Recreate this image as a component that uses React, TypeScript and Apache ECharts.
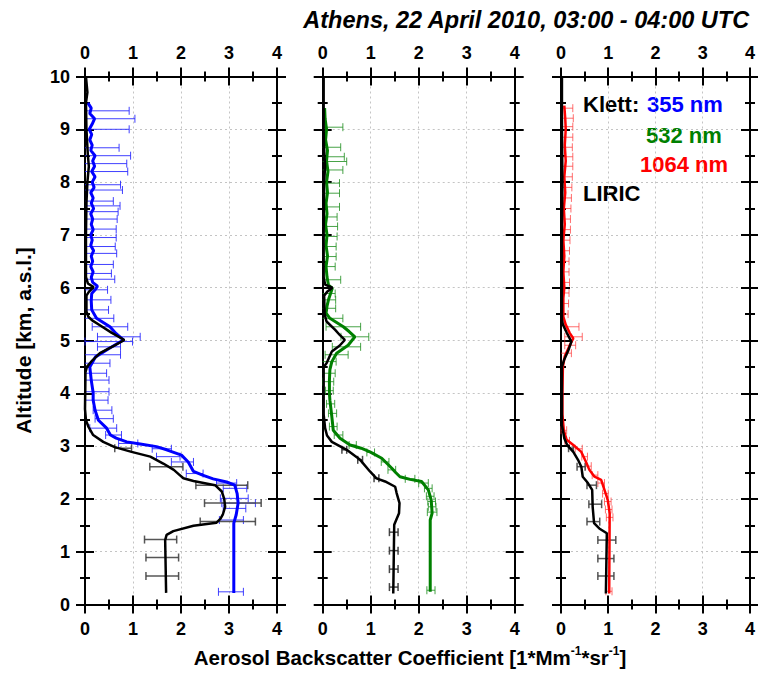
import React, { useEffect, useRef } from "react";
import * as echarts from "echarts";

// ---------- DATA ----------
// Panel 1: Klett 355 nm
const ALT_355 = [0.22, 1.54, 1.7, 1.92, 2.1, 2.26, 2.32, 2.38, 2.45, 2.52, 2.62, 2.7, 2.83, 2.93, 2.99, 3.04, 3.08, 3.15, 3.21, 3.34, 3.49, 3.68, 3.87, 4.01, 4.25, 4.5, 4.69, 4.85, 5.01, 5.13, 5.26, 5.42, 5.58, 5.75, 5.89, 5.97, 6.03, 6.1, 6.2, 6.3, 6.4, 6.5, 6.6, 6.7, 6.8, 6.9, 7.0, 7.1, 7.2, 7.3, 7.4, 7.5, 7.6, 7.7, 7.8, 7.9, 8.0, 8.1, 8.2, 8.3, 8.4, 8.5, 8.6, 8.7, 8.8, 8.9, 9.0, 9.1, 9.2, 9.3, 9.4, 9.5];
const VAL_355 = [3.1, 3.1, 3.15, 3.19, 3.17, 3.12, 2.95, 2.67, 2.45, 2.26, 2.2, 2.15, 2.01, 1.7, 1.49, 1.15, 0.87, 0.65, 0.53, 0.45, 0.28, 0.21, 0.17, 0.17, 0.13, 0.1, 0.22, 0.5, 0.8, 0.65, 0.52, 0.24, 0.14, 0.13, 0.14, 0.22, 0.26, 0.16, 0.13, 0.17, 0.12, 0.16, 0.13, 0.18, 0.12, 0.15, 0.12, 0.17, 0.13, 0.16, 0.12, 0.18, 0.13, 0.17, 0.12, 0.19, 0.15, 0.21, 0.14, 0.2, 0.16, 0.21, 0.12, 0.15, 0.1, 0.14, 0.09, 0.15, 0.2, 0.1, 0.13, 0.06];
const ERR355_ALT = [0.24, 1.6, 1.82, 1.92, 2.01, 2.2, 2.3, 2.48, 2.7, 2.8, 2.95, 3.05, 3.21, 3.34, 3.52, 3.68, 3.87, 4.03, 4.25, 4.38, 4.57, 4.73, 4.88, 4.98, 5.07, 5.26, 5.42, 5.58, 5.77, 5.96, 6.16, 6.27, 6.44, 6.65, 6.78, 6.95, 7.11, 7.3, 7.44, 7.55, 7.64, 7.85, 7.95, 8.2, 8.35, 8.5, 8.65, 9.0, 9.2, 9.35];
const ERR355_LO = [2.78, 2.8, 2.88, 2.85, 2.82, 2.88, 2.74, 2.11, 1.8, 1.49, 1.4, 0.7, 0.43, 0.1, 0.21, 0.17, -0.1, -0.1, -0.2, -0.2, -0.3, -0.3, 0.26, 0.0, 0.26, 0.15, -0.1, -0.2, -0.3, -0.2, -0.3, -0.3, -0.3, -0.4, -0.4, -0.4, -0.4, -0.4, -0.4, -0.4, -0.3, -0.5, -0.5, -0.6, -0.6, -0.6, -0.5, -0.7, -0.7, -0.7];
const ERR355_HI = [3.3, 3.3, 3.35, 3.55, 3.4, 3.37, 3.16, 2.46, 2.26, 1.98, 1.8, 1.1, 0.76, 0.66, 0.59, 0.56, 0.48, 0.5, 0.5, 0.45, 0.52, 0.74, 0.74, 0.99, 1.15, 0.89, 0.6, 0.49, 0.54, 0.47, 0.62, 0.55, 0.59, 0.66, 0.63, 0.65, 0.65, 0.67, 0.69, 0.73, 0.59, 0.78, 0.74, 0.89, 0.87, 0.95, 0.71, 0.92, 1.04, 0.92];

// Panel 1: LIRIC (for 355 nm)
const ALT_L1 = [0.22, 1.22, 1.32, 1.39, 1.49, 1.55, 1.62, 1.7, 1.85, 2.0, 2.14, 2.26, 2.34, 2.39, 2.47, 2.55, 2.67, 2.8, 2.89, 2.98, 3.08, 3.21, 3.37, 3.49, 3.7, 4.4, 4.5, 4.62, 4.76, 4.9, 5.01, 5.15, 5.29, 5.38, 5.45, 5.55, 5.85, 5.92, 6.01, 6.08, 6.2, 7.0, 7.6, 8.0, 8.3, 8.5, 9.0, 9.5, 9.7, 10.0];
const VAL_L1 = [1.69, 1.67, 1.7, 1.84, 2.26, 2.74, 2.82, 2.87, 2.92, 2.9, 2.85, 2.71, 2.26, 2.05, 1.95, 1.85, 1.63, 1.36, 0.97, 0.62, 0.38, 0.17, 0.07, 0.02, 0.0, 0.01, 0.04, 0.15, 0.31, 0.6, 0.82, 0.55, 0.31, 0.15, 0.07, 0.03, 0.03, 0.08, 0.18, 0.06, 0.02, 0.02, 0.03, 0.05, 0.08, 0.06, 0.03, 0.02, 0.05, 0.02];
const ERRL1_ALT = [0.54, 0.89, 1.23, 1.57, 1.92, 2.26, 2.61, 2.96];
const ERRL1_LO = [1.27, 1.27, 1.24, 2.4, 2.49, 2.31, 1.35, 0.62];
const ERRL1_HI = [1.95, 1.95, 1.91, 3.55, 3.67, 3.39, 2.04, 0.97];

// Panel 2: Klett 532 nm
const ALT_532 = [0.24, 1.6, 1.73, 1.98, 2.17, 2.33, 2.37, 2.42, 2.5, 2.58, 2.77, 2.89, 2.96, 3.02, 3.15, 3.3, 3.56, 3.87, 4.0, 4.25, 4.45, 4.6, 4.76, 4.91, 5.07, 5.17, 5.26, 5.42, 5.52, 5.65, 5.77, 5.99, 6.05, 6.2, 6.4, 6.6, 6.8, 7.0, 7.2, 7.4, 7.6, 7.8, 8.0, 8.2, 8.4, 8.6, 8.8, 9.0, 9.2, 9.4];
const VAL_532 = [2.24, 2.24, 2.28, 2.26, 2.2, 2.06, 1.82, 1.61, 1.52, 1.44, 1.23, 0.985, 0.8, 0.57, 0.36, 0.22, 0.19, 0.15, 0.14, 0.14, 0.15, 0.19, 0.29, 0.53, 0.67, 0.55, 0.43, 0.15, 0.07, 0.09, 0.12, 0.2, 0.12, 0.09, 0.07, 0.1, 0.07, 0.09, 0.06, 0.09, 0.07, 0.1, 0.08, 0.11, 0.08, 0.1, 0.06, 0.08, 0.05, 0.04];
const ERR532_ALT = [0.27, 1.75, 1.85, 1.95, 2.05, 2.2, 2.3, 2.38, 2.55, 2.7, 2.88, 3.02, 3.21, 3.37, 3.62, 3.8, 4.05, 4.22, 4.38, 4.6, 4.73, 4.88, 5.07, 5.26, 5.42, 5.61, 5.77, 5.89, 6.15, 6.4, 6.59, 6.78, 6.97, 7.16, 7.34, 7.53, 7.79, 7.98, 8.23, 8.39, 8.48, 8.66, 9.04];
const ERR532_LO = [2.17, 2.18, 2.2, 2.19, 2.16, 2.12, 2.0, 1.72, 1.36, 1.22, 0.92, 0.55, 0.24, 0.14, 0.12, 0.08, 0.06, 0.0, -0.1, -0.1, 0.05, 0.2, 0.38, 0.07, -0.1, -0.1, -0.05, -0.1, -0.1, -0.12, -0.12, -0.12, -0.14, -0.15, -0.14, -0.2, -0.2, -0.2, -0.28, -0.36, -0.3, -0.24, -0.28];
const ERR532_HI = [2.34, 2.38, 2.36, 2.35, 2.32, 2.28, 2.2, 1.92, 1.52, 1.38, 1.08, 0.7, 0.42, 0.3, 0.29, 0.25, 0.22, 0.23, 0.26, 0.28, 0.53, 0.79, 0.96, 0.79, 0.42, 0.27, 0.27, 0.26, 0.375, 0.26, 0.28, 0.28, 0.3, 0.31, 0.3, 0.35, 0.35, 0.35, 0.42, 0.5, 0.45, 0.375, 0.42];

// Panel 2: LIRIC (for 532 nm)
const ALT_L2 = [0.21, 1.51, 1.73, 1.92, 2.11, 2.23, 2.33, 2.39, 2.52, 2.74, 2.93, 3.08, 3.2, 3.34, 3.6, 4.5, 4.57, 4.79, 4.9, 5.01, 5.1, 5.2, 5.36, 5.5, 5.85, 5.93, 6.0, 6.06, 6.2, 7.0, 8.0, 8.3, 8.6, 9.0, 9.5, 10.0];
const VAL_L2 = [1.47, 1.49, 1.59, 1.6, 1.54, 1.51, 1.3, 1.12, 0.985, 0.78, 0.5, 0.19, 0.09, 0.05, 0.02, 0.02, 0.08, 0.19, 0.35, 0.46, 0.36, 0.26, 0.08, 0.04, 0.03, 0.1, 0.2, 0.05, 0.02, 0.02, 0.03, 0.05, 0.03, 0.02, 0.02, 0.02];
const ERRL2_ALT = [0.33, 0.67, 1.02, 1.37, 2.39, 2.74, 2.93];
const ERRL2_LO = [1.39, 1.39, 1.39, 1.39, 1.07, 0.73, 0.4];
const ERRL2_HI = [1.57, 1.57, 1.57, 1.57, 1.17, 0.83, 0.5];

// Panel 3: Klett 1064 nm
const ALT_1064 = [0.21, 1.73, 1.98, 2.17, 2.36, 2.42, 2.55, 2.7, 2.89, 3.02, 3.12, 3.3, 3.6, 4.0, 4.5, 4.7, 4.9, 5.04, 5.15, 5.3, 5.45, 5.8, 6.0, 6.3, 6.6, 6.9, 7.2, 7.5, 7.8, 8.1, 8.4, 8.7, 9.0, 9.2, 9.45];
const VAL_1064 = [1.02, 1.03, 0.99, 0.92, 0.85, 0.71, 0.6, 0.53, 0.43, 0.26, 0.12, 0.06, 0.03, 0.03, 0.04, 0.08, 0.18, 0.26, 0.18, 0.1, 0.05, 0.05, 0.07, 0.05, 0.07, 0.05, 0.08, 0.06, 0.09, 0.07, 0.1, 0.08, 0.1, 0.09, 0.07];
const ERR1064_ALT = [0.25, 1.65, 1.8, 1.95, 2.1, 2.3, 2.45, 2.62, 2.8, 2.95, 3.1, 3.3, 4.76, 4.91, 5.07, 5.26, 5.5, 5.7, 5.9, 6.1, 6.3, 6.5, 6.7, 6.9, 7.1, 7.3, 7.5, 7.7, 7.9, 8.1, 8.3, 8.48, 8.66, 8.85, 9.05, 9.21, 9.4];
const ERR1064_LO = [0.95, 0.96, 0.94, 0.92, 0.88, 0.78, 0.66, 0.52, 0.44, 0.3, 0.08, 0.0, -0.1, 0.08, 0.08, 0.08, -0.1, -0.1, -0.1, -0.1, -0.1, -0.1, -0.1, -0.1, -0.1, -0.1, -0.1, -0.1, -0.1, -0.1, -0.1, -0.1, -0.1, -0.1, -0.1, -0.1, -0.1];
const ERR1064_HI = [1.08, 1.1, 1.08, 1.06, 1.0, 0.92, 0.78, 0.64, 0.56, 0.45, 0.18, 0.12, 0.22, 0.31, 0.45, 0.38, 0.15, 0.16, 0.17, 0.18, 0.17, 0.17, 0.18, 0.19, 0.2, 0.2, 0.21, 0.22, 0.23, 0.24, 0.25, 0.25, 0.24, 0.25, 0.25, 0.26, 0.25];

// Panel 3: LIRIC (for 1064 nm)
const ALT_L3 = [0.21, 1.35, 1.44, 1.54, 1.85, 2.17, 2.3, 2.42, 2.61, 2.74, 2.89, 3.02, 3.15, 3.4, 4.5, 4.62, 4.8, 4.98, 5.15, 5.3, 5.4, 6.0, 7.0, 8.0, 9.0, 10.0];
const VAL_L3 = [0.95, 0.97, 0.81, 0.7, 0.67, 0.66, 0.57, 0.46, 0.43, 0.36, 0.26, 0.13, 0.07, 0.02, 0.02, 0.06, 0.15, 0.22, 0.12, 0.04, 0.02, 0.02, 0.02, 0.03, 0.02, 0.02];
const ERRL3_ALT = [0.54, 0.87, 1.22, 1.57, 1.9, 2.26, 2.61, 2.96];
const ERRL3_LO = [0.78, 0.78, 0.78, 0.55, 0.59, 0.55, 0.34, 0.16];
const ERRL3_HI = [1.12, 1.12, 1.16, 0.82, 0.86, 0.75, 0.51, 0.26];

const X_MIN = 0, X_MAX = 4, X_STEP = 1;
const Y_MIN = 0, Y_MAX = 10, Y_STEP = 1;

const TITLE = "Athens, 22 April 2010, 03:00 - 04:00 UTC";
const Y_NAME = "Altitude [km, a.s.l.]";

// ---------- LAYOUT ----------
const FONT = "'Liberation Sans', Arial, Helvetica, sans-serif";
const GRID_TOP = 76.5;
const GRID_H = 528;
const GRID_W = 192;
const GRID_LEFTS = [85, 322.7, 561];

const zip = (a: number[], v: number[]) => a.map((y, i) => [v[i], y]);
const zipErr = (a: number[], lo: number[], hi: number[]) => a.map((y, i) => [y, lo[i], hi[i]]);

function makeXAxes(g: number) {
  const base: any = {
    type: "value",
    gridIndex: g,
    min: X_MIN,
    max: X_MAX,
    interval: X_STEP,
    axisLine: { show: true, onZero: false, lineStyle: { color: "#000", width: 2 } },
    splitLine: { show: false },
  };
  const lbl = { show: true, color: "#000", fontSize: 18, fontWeight: "bold", fontFamily: FONT, margin: 15 };
  const out = {
    axisTick: { show: true, inside: false, length: 9, lineStyle: { color: "#000", width: 2 } },
    minorTick: { show: true, splitNumber: 2, length: 5, lineStyle: { color: "#000", width: 2 } },
  };
  const inn = {
    axisTick: { show: true, inside: true, length: 9, lineStyle: { color: "#000", width: 2 } },
    minorTick: { show: true, splitNumber: 2, length: 5, lineStyle: { color: "#000", width: 2 } },
  };
  return [
    {
      ...base, ...out, position: "bottom", axisLabel: lbl,
      splitLine: { show: true, lineStyle: { color: "#c4c4c4", width: 1, type: [2, 3] } },
    },
    { ...base, ...inn, position: "bottom", axisLabel: { show: false } },
    { ...base, ...out, position: "top", axisLabel: lbl },
    { ...base, ...inn, position: "top", axisLabel: { show: false } },
  ];
}

function makeYAxes(g: number) {
  const base: any = {
    type: "value",
    gridIndex: g,
    min: Y_MIN,
    max: Y_MAX,
    interval: Y_STEP,
    axisLine: { show: true, onZero: false, lineStyle: { color: "#000", width: 2 } },
    splitLine: { show: false },
  };
  const out = {
    axisTick: { show: true, inside: false, length: 9, lineStyle: { color: "#000", width: 2 } },
    minorTick: { show: true, splitNumber: 2, length: 5, lineStyle: { color: "#000", width: 2 } },
  };
  const inn = {
    axisTick: { show: true, inside: true, length: 9, lineStyle: { color: "#000", width: 2 } },
    minorTick: { show: true, splitNumber: 2, length: 5, lineStyle: { color: "#000", width: 2 } },
  };
  return [
    {
      ...base, ...out, position: "left",
      axisLabel: g === 0
        ? { show: true, color: "#000", fontSize: 18, fontWeight: "bold", fontFamily: FONT, margin: 15 }
        : { show: false },
      splitLine: { show: true, lineStyle: { color: "#c4c4c4", width: 1, type: [2, 3] } },
    },
    { ...base, ...inn, position: "left", axisLabel: { show: false } },
    { ...base, ...out, position: "right", axisLabel: { show: false } },
    { ...base, ...inn, position: "right", axisLabel: { show: false } },
  ];
}

function errSeries(g: number, data: number[][], color: string, width: number, opacity: number) {
  return {
    type: "custom",
    xAxisIndex: g * 4,
    yAxisIndex: g * 4,
    data,
    encode: { x: [1, 2], y: 0 },
    z: 3,
    silent: true,
    renderItem: (_p: any, api: any) => {
      const y = api.value(0);
      const lo = api.value(1);
      const hi = api.value(2);
      const clo = Math.max(lo, X_MIN);
      const chi = Math.min(hi, X_MAX);
      const p1 = api.coord([clo, y]);
      const p2 = api.coord([chi, y]);
      const st = { stroke: color, lineWidth: width, opacity };
      const cap = 4;
      const children: any[] = [
        { type: "line", shape: { x1: p1[0], y1: p1[1], x2: p2[0], y2: p2[1] }, style: st },
      ];
      if (lo >= X_MIN) children.push({ type: "line", shape: { x1: p1[0], y1: p1[1] - cap, x2: p1[0], y2: p1[1] + cap }, style: st });
      if (hi <= X_MAX) children.push({ type: "line", shape: { x1: p2[0], y1: p2[1] - cap, x2: p2[0], y2: p2[1] + cap }, style: st });
      return { type: "group", children };
    },
  };
}

function lineSeries(g: number, name: string, data: number[][], color: string, width: number, z: number) {
  return {
    type: "line",
    name,
    xAxisIndex: g * 4,
    yAxisIndex: g * 4,
    data,
    showSymbol: false,
    symbol: "none",
    smooth: false,
    lineStyle: { color, width },
    z,
    silent: true,
  };
}

export default function App() {
  const ref = useRef<HTMLDivElement>(null);
  useEffect(() => {
    if (!ref.current) return;
    const chart = echarts.init(ref.current, undefined, { renderer: "svg" });
    const grids = GRID_LEFTS.map((l) => ({ left: l, top: GRID_TOP, width: GRID_W, height: GRID_H, containLabel: false }));
    const xAxis = [0, 1, 2].flatMap((g) => makeXAxes(g));
    const yAxis = [0, 1, 2].flatMap((g) => makeYAxes(g));
    const series: any[] = [
      errSeries(0, zipErr(ERR355_ALT, ERR355_LO, ERR355_HI), "#2020ff", 1, 0.85),
      lineSeries(0, "Klett 355 nm", zip(ALT_355, VAL_355), "#0000ff", 3, 4),
      errSeries(0, zipErr(ERRL1_ALT, ERRL1_LO, ERRL1_HI), "#444", 1.5, 0.9),
      lineSeries(0, "LIRIC 355", zip(ALT_L1, VAL_L1), "#000", 2.5, 6),

      errSeries(1, zipErr(ERR532_ALT, ERR532_LO, ERR532_HI), "#1a8c1a", 1, 0.8),
      lineSeries(1, "Klett 532 nm", zip(ALT_532, VAL_532), "#008000", 3, 4),
      errSeries(1, zipErr(ERRL2_ALT, ERRL2_LO, ERRL2_HI), "#333", 1.5, 0.9),
      lineSeries(1, "LIRIC 532", zip(ALT_L2, VAL_L2), "#000", 2.5, 6),

      errSeries(2, zipErr(ERR1064_ALT, ERR1064_LO, ERR1064_HI), "#ff3030", 1, 0.7),
      lineSeries(2, "Klett 1064 nm", zip(ALT_1064, VAL_1064), "#ff0000", 2.5, 4),
      errSeries(2, zipErr(ERRL3_ALT, ERRL3_LO, ERRL3_HI), "#444", 1.5, 0.9),
      lineSeries(2, "LIRIC 1064", zip(ALT_L3, VAL_L3), "#000", 2.5, 6),
    ];
    const legFont = { fontFamily: FONT, fontWeight: "bold", fontSize: 22 } as any;
    const graphic: any[] = [
      {
        type: "text", right: 8, top: 8,
        style: { text: TITLE, fill: "#000", font: `italic bold 23.5px ${FONT}` },
      },
      {
        type: "text", x: 23, y: GRID_TOP + GRID_H / 2, rotation: Math.PI / 2,
        style: { text: Y_NAME, fill: "#000", ...legFont, fontSize: 21, align: "center", verticalAlign: "middle" },
      },
      {
        type: "text", x: 410, y: 657,
        style: {
          text: "{m|Aerosol Backscatter Coefficient [1*Mm}{s|-1}{m|*sr}{s|-1}{m|]}",
          align: "center", verticalAlign: "middle",
          rich: {
            m: { fontFamily: FONT, fontWeight: "bold", fontSize: 20.5, fill: "#000", color: "#000", lineHeight: 24 },
            s: { fontFamily: FONT, fontWeight: "bold", fontSize: 12, fill: "#000", color: "#000", lineHeight: 24, verticalAlign: "top" },
          },
        },
      },
      { type: "text", x: 583, y: 104, style: { text: "Klett:", fill: "#000", ...legFont, verticalAlign: "middle" } },
      { type: "text", x: 647, y: 104, style: { text: "355 nm", fill: "#0000ff", ...legFont, verticalAlign: "middle" } },
      { type: "text", x: 646, y: 135, style: { text: "532 nm", fill: "#008000", ...legFont, verticalAlign: "middle" } },
      { type: "text", x: 640, y: 164, style: { text: "1064 nm", fill: "#ff0000", ...legFont, verticalAlign: "middle" } },
      { type: "text", x: 583, y: 193, style: { text: "LIRIC", fill: "#000", ...legFont, verticalAlign: "middle" } },
    ];
    chart.setOption({
      animation: false,
      backgroundColor: "#fff",
      grid: grids,
      xAxis,
      yAxis,
      series,
      graphic,
    });
    return () => chart.dispose();
  }, []);
  return <div ref={ref} style={{ width: 758, height: 673, position: "absolute", left: 0, top: 0 }} />;
}
